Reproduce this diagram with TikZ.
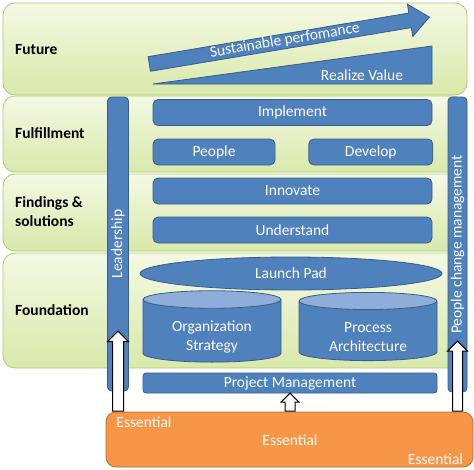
\documentclass[tikz,border=0pt]{standalone}
\usepackage{fontspec}
\setmainfont{Carlito}
\usetikzlibrary{positioning,shapes.geometric,shapes.arrows}
\definecolor{bandtop}{HTML}{F4F9E4}
\definecolor{bandbot}{HTML}{D9E9AA}
\definecolor{bandline}{HTML}{AFC873}
\definecolor{bluefill}{HTML}{4F81BD}
\definecolor{blueline}{HTML}{385D8A}
\definecolor{bluetop}{HTML}{8FADD9}
\definecolor{orangefill}{HTML}{F79646}
\definecolor{orangeline}{HTML}{B66D31}

\begin{document}
\begin{tikzpicture}[x=1pt,y=-1pt,
  mynodeband/.style={draw=bandline,rectangle,rounded corners=12pt,top color=bandtop,bottom color=bandbot,line width=0.8pt},
  mynodelabel/.style={font=\fontsize{15.5}{19}\selectfont\bfseries,align=left,anchor=west,inner sep=0pt},
  mynodeblue/.style={draw=blueline,fill=bluefill,rectangle,rounded corners=5pt,text=white,font=\fontsize{15.5}{19}\selectfont,inner sep=0pt,line width=0.8pt},
  mynodebar/.style={mynodeblue,rotate=90,rounded corners=4pt},
  mynodecyl/.style={draw=blueline,cylinder,shape border rotate=90,aspect=0.22,cylinder uses custom fill,cylinder body fill=bluefill,cylinder end fill=bluetop,text=white,font=\fontsize{15.5}{19}\selectfont,align=center,inner sep=0pt,line width=0.8pt},
  mynodeup/.style={single arrow,draw=black,fill=white,line width=1pt,rotate=90,anchor=tail,inner sep=0pt},
  mynodetext/.style={text=white,font=\fontsize{15.5}{19}\selectfont,inner sep=0pt}
]
\useasboundingbox (0,0) rectangle (474,469);

% bands
\node[mynodeband, minimum width=464, minimum height=92] (future) at (235,49) {};
\node[mynodeband, minimum width=461, minimum height=76] (fulfil) at (233.5,134) {};
\node[mynodeband, minimum width=461, minimum height=77] (findings) at (233.5,212.5) {};
\node[mynodeband, minimum width=461, minimum height=115] (found) at (233.5,310.5) {};

\node[mynodelabel] (futureL) at (15,50) {Future};
\node[mynodelabel] (fulfilL) at (15,133) {Fulfillment};
\node[mynodelabel] (findingsL) at (15,212) {Findings \&\\solutions};
\node[mynodelabel] (foundL) at (15,310) {Foundation};

% future
\node[single arrow, draw=blueline, fill=bluefill, line width=0.8pt, text=white,
  font=\fontsize{15.5}{19}\selectfont, rotate=9.5, anchor=tip,
  minimum height=284, single arrow head extend=9pt, single arrow tip angle=80,
  text height=10pt, text depth=3pt, inner ysep=0.5pt, inner xsep=2pt] (sust) at (430,17) {Sustainable perfomance};
\draw[draw=blueline, fill=bluefill, line width=0.8pt] (153,84) -- (432,84) -- (432,46) -- cycle;
\node[mynodetext] (value) at (362,75) {Realize Value};

% side bars
\node[mynodebar, minimum width=294, minimum height=21] (lead) at (118,244) {Leadership};
\node[mynodebar, minimum width=295, minimum height=19] (change) at (457.5,244.5) {People change management};

% boxes
\node[mynodeblue, minimum width=279, minimum height=26] (impl) at (292.5,112.5) {Implement};
\node[mynodeblue, minimum width=122, minimum height=26] (people) at (214,152) {People};
\node[mynodeblue, minimum width=124, minimum height=26, right=33pt of people] (dev) {Develop};
\node[mynodeblue, minimum width=279, minimum height=26] (innov) at (292.5,191) {Innovate};
\node[mynodeblue, minimum width=279, minimum height=26] (under) at (292.5,230) {Understand};
\node[mynodeblue, ellipse, minimum width=302, minimum height=33] (launch) at (291,273.5) {Launch Pad};
\node[mynodecyl, minimum width=138, minimum height=62] (org) at (212,331) {\rule{0pt}{23pt}Organization\\Strategy};
\node[mynodecyl, minimum width=138, minimum height=62] (proc) at (368,331) {\rule{0pt}{23pt}Process\\Architecture};
\node[mynodeblue, minimum width=294, minimum height=20, rounded corners=3pt] (pm) at (290,383) {Project Management};

% essential
\node[draw=orangeline, fill=orangefill, rectangle, rounded corners=10pt, line width=0.8pt,
  minimum width=367, minimum height=55] (ess) at (289.5,439.5) {};
\node[mynodetext] (essA) at (144,422) {Essential};
\node[mynodetext] (essB) at (290,440) {Essential};
\node[mynodetext] (essC) at (435.5,459) {Essential};

% arrows
\node[mynodeup, minimum height=80, inner ysep=5pt, single arrow head extend=5pt] (upL) at (ess.north -| lead.center) {};
\node[mynodeup, minimum height=70, inner ysep=4.5pt, single arrow head extend=5pt] (upR) at (ess.north -| change.center) {};
\node[mynodeup, minimum height=18, inner ysep=4.5pt, single arrow head extend=4pt] (upM) at (ess.north -| pm.center) {};

\end{tikzpicture}
\end{document}
